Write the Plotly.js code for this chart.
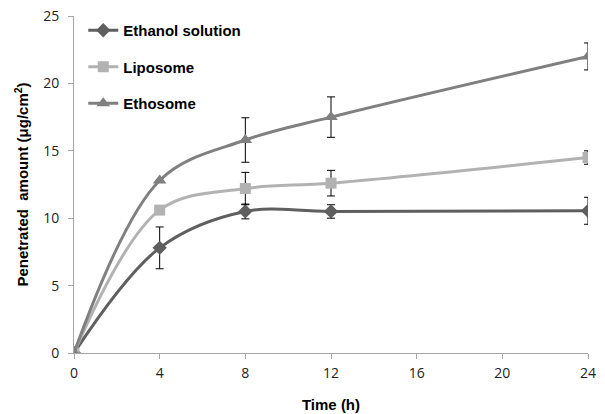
<!DOCTYPE html>
<html>
<head>
<meta charset="utf-8">
<script src="https://cdn.plot.ly/plotly-3.0.1.min.js"></script>
<style>html,body{margin:0;padding:0;background:#fff;}#chart{width:605px;height:414px;}</style>
</head>
<body>
<div id="chart"></div>
<script>
const time = [0, 4, 8, 12, 24];
const ethanolVals = [0, 7.8, 10.5, 10.5, 10.55];
const ethanolErr = [0, 1.55, 0.55, 0.5, 1.0];
const liposomeVals = [0, 10.6, 12.2, 12.6, 14.5];
const liposomeErr = [0, 0, 1.2, 0.95, 0.5];
const ethosomeVals = [0, 12.8, 15.8, 17.5, 22.0];
const ethosomeErr = [0, 0, 1.65, 1.5, 1.0];
const xTicks = [0, 4, 8, 12, 16, 20, 24];
const yTicks = [0, 5, 10, 15, 20, 25];

function mk(name, y, err, color, symbol, size, group) {
  return {
    x: time, y: y, name: name, type: 'scatter', mode: 'lines+markers',
    legendgroup: group,
    line: {color: color, width: 3, shape: 'spline', smoothing: 1},
    marker: {color: color, symbol: symbol, size: size},
    error_y: {type: 'data', array: err, visible: true, color: '#000', thickness: 1, width: 4}
  };
}
const traces = [
  mk('Ethanol solution', ethanolVals, ethanolErr, '#5f5f5f', 'diamond', 11, 'a'),
  mk('Liposome', liposomeVals, liposomeErr, '#b2b2b2', 'square', 11, 'b'),
  mk('Ethosome', ethosomeVals, ethosomeErr, '#808080', 'triangle-up', 12, 'c')
];
const layout = {
  width: 605, height: 414,
  margin: {l: 74, r: 17, t: 16, b: 61},
  paper_bgcolor: '#fff', plot_bgcolor: '#fff',
  showlegend: true,
  legend: {x: 0.018, y: 1.006, xanchor: 'left', yanchor: 'top', bgcolor: 'rgba(0,0,0,0)',
    font: {family: 'Liberation Sans, Arial, sans-serif', size: 15, color: '#000', weight: 'bold'},
    tracegroupgap: 14, traceorder: 'grouped'},
  xaxis: {
    range: [0, 24], tickvals: xTicks, ticktext: xTicks.map(String),
    showgrid: false, zeroline: false, showline: true, linecolor: '#a6a6a6', linewidth: 1,
    ticks: 'outside', ticklen: 5, tickcolor: '#a6a6a6', ticklabelstandoff: 2,
    tickfont: {family: 'Open Sans, DejaVu Sans, sans-serif', size: 14, color: '#222'},
    title: {text: 'Time (h)', font: {family: 'Liberation Sans, Arial, sans-serif', size: 15, color: '#000', weight: 'bold'}, standoff: 18}
  },
  yaxis: {
    range: [0, 25], tickvals: yTicks, ticktext: yTicks.map(String),
    showgrid: false, zeroline: false, showline: true, linecolor: '#a6a6a6', linewidth: 1,
    ticks: 'outside', ticklen: 5, tickcolor: '#a6a6a6', ticklabelstandoff: 6,
    tickfont: {family: 'Open Sans, DejaVu Sans, sans-serif', size: 14, color: '#222'},
    title: {text: 'Penetrated  amount (μg/cm<sup>2</sup>)', font: {family: 'Liberation Sans, Arial, sans-serif', size: 15, color: '#000', weight: 'bold'}, standoff: 10}
  }
};
Plotly.newPlot('chart', traces, layout, {displayModeBar: false, staticPlot: true});
</script>
</body>
</html>
